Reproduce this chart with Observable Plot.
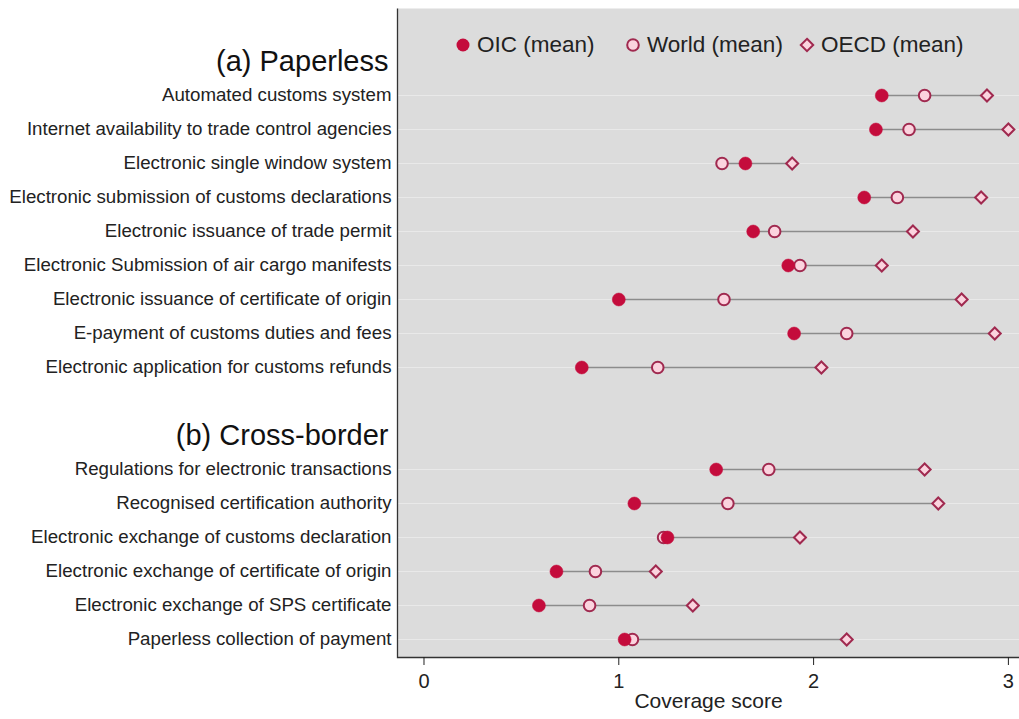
<!DOCTYPE html>
<html>
<head>
<meta charset="utf-8">
<script src="https://cdn.jsdelivr.net/npm/d3@7"></script>
<script src="https://cdn.jsdelivr.net/npm/@observablehq/plot@0.6"></script>
<style>
  html, body { margin: 0; padding: 0; background: #fff; }
  #wrap { position: relative; width: 1019px; height: 719px; font-family: "Liberation Sans", Arial, sans-serif; }
  .leg { position: absolute; top: 33px; height: 24px; display: flex; align-items: center; font-size: 22.5px; color: #222; white-space: nowrap; }
  .leg svg { margin-right: 6px; }
</style>
</head>
<body>
<div id="wrap"></div>
<script>
// ---- data ----
const headers = ["(a) Paperless", "(b) Cross-border"];
const paperlessItems = [
  "Automated customs system",
  "Internet availability to trade control agencies",
  "Electronic single window system",
  "Electronic submission of customs declarations",
  "Electronic issuance of trade permit",
  "Electronic Submission of air cargo manifests",
  "Electronic issuance of certificate of origin",
  "E-payment of customs duties and fees",
  "Electronic application for customs refunds"
];
const crossBorderItems = [
  "Regulations for electronic transactions",
  "Recognised certification authority",
  "Electronic exchange of customs declaration",
  "Electronic exchange of certificate of origin",
  "Electronic exchange of SPS certificate",
  "Paperless collection of payment"
];
const oicMean   = [2.35, 2.32, 1.65, 2.26, 1.69, 1.87, 1.00, 1.90, 0.81, 1.50, 1.08, 1.25, 0.68, 0.59, 1.03];
const worldMean = [2.57, 2.49, 1.53, 2.43, 1.80, 1.93, 1.54, 2.17, 1.20, 1.77, 1.56, 1.23, 0.88, 0.85, 1.07];
const oecdMean  = [2.89, 3.00, 1.89, 2.86, 2.51, 2.35, 2.76, 2.93, 2.04, 2.57, 2.64, 1.93, 1.19, 1.38, 2.17];
const xTicks = [0, 1, 2, 3];
const seriesNames = ["OIC (mean)", "World (mean)", "OECD (mean)"];

// ---- build table ----
const items = [...paperlessItems, ...crossBorderItems];
const rows = items.map((item, i) => ({item, oic: oicMean[i], world: worldMean[i], oecd: oecdMean[i]}));
const yDomain = [headers[0], ...paperlessItems, " ", headers[1], ...crossBorderItems];

const W = 1019, H = 719, ML = 397, MR = 0, MT = 8, MB = 62;
const FW = W - ML - MR, FH = H - MT - MB;
const FONT = "'Liberation Sans', Arial, sans-serif";
const red = "#c40c3c", pinkFill = "#fbd3de", darkRed = "#a0294f";

const chart = Plot.plot({
  width: W, height: H,
  marginLeft: ML, marginRight: MR, marginTop: MT, marginBottom: MB,
  style: {fontFamily: FONT, background: "transparent", overflow: "visible"},
  x: {domain: [-0.136, 3.057], axis: null},
  y: {type: "point", domain: yDomain, range: [59.9, 640], padding: 0, axis: null},
  marks: [
    Plot.frame({fill: "#dcdcdc", stroke: null}),
    Plot.ruleY(items, {stroke: "#e9e9e9", strokeWidth: 1.2}),
    Plot.ruleY(rows, {y: "item", x1: d => Math.min(d.oic, d.world, d.oecd), x2: d => Math.max(d.oic, d.world, d.oecd), stroke: "#8c8c8c", strokeWidth: 1.5}),
    Plot.dot(rows, {x: "oecd", y: "item", symbol: "diamond2", r: 5.4, fill: pinkFill, stroke: darkRed, strokeWidth: 2}),
    Plot.dot(rows, {x: "world", y: "item", r: 5.8, fill: pinkFill, stroke: darkRed, strokeWidth: 2}),
    Plot.dot(rows, {x: "oic", y: "item", r: 6.5, fill: red, stroke: red, strokeWidth: 0.5}),
    Plot.frame({stroke: "#333", strokeWidth: 1.3, strokeDasharray: `0 ${FW + FH} ${FW + FH}`, fill: "none"}),
    Plot.axisX(xTicks, {tickSize: 8, tickPadding: 8, fontSize: 20, color: "#222", label: null, tickFormat: d => String(d)}),
    Plot.text(["Coverage score"], {text: d => d, frameAnchor: "bottom", dy: 50, fontSize: 21, fill: "#222"}),
    Plot.axisY(items, {tickSize: 0, tickPadding: 6, fontSize: 18.7, color: "#222", label: null}),
    Plot.axisY(headers, {tickSize: 0, tickPadding: 9, fontSize: 29, color: "#111", label: null})
  ]
});

const wrap = document.getElementById("wrap");
wrap.appendChild(chart);

// ---- legend (HTML, inside panel) ----
const legendDefs = [
  {name: seriesNames[0], left: 455, svg: `<circle cx="8" cy="8" r="6.5" fill="${red}"/>`},
  {name: seriesNames[1], left: 625, svg: `<circle cx="8" cy="8" r="5.8" fill="${pinkFill}" stroke="${darkRed}" stroke-width="2"/>`},
  {name: seriesNames[2], left: 799, svg: `<path d="M8,1.8L14.2,8L8,14.2L1.8,8Z" fill="${pinkFill}" stroke="${darkRed}" stroke-width="2"/>`}
];
for (const d of legendDefs) {
  const el = document.createElement("div");
  el.className = "leg";
  el.style.left = d.left + "px";
  el.innerHTML = `<svg width="16" height="16" viewBox="0 0 16 16">${d.svg}</svg><span>${d.name}</span>`;
  wrap.appendChild(el);
}
</script>
</body>
</html>
